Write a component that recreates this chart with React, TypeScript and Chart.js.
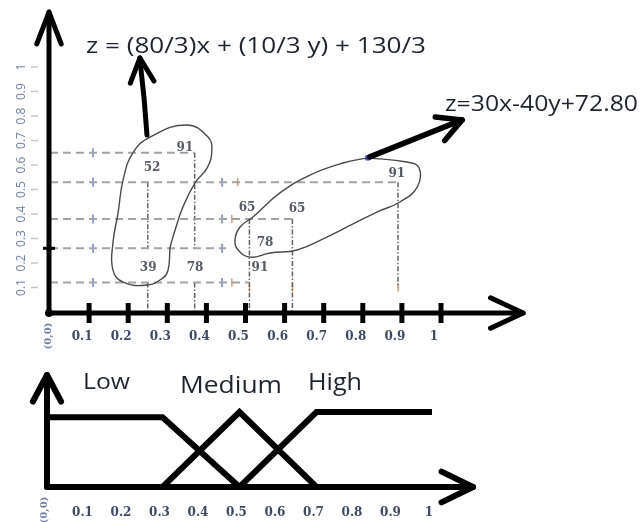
import React, { useEffect, useRef } from "react";
import { Chart, registerables } from "chart.js";

Chart.register(...registerables);

// ---------- upper plot: rule regions over the (x, y) input plane ----------
const axisTicks = [0.1, 0.2, 0.3, 0.4, 0.5, 0.6, 0.7, 0.8, 0.9, 1];

// horizontal guide lines: level and where each one stops
const levelY = [0.65, 0.53, 0.38, 0.26, 0.12];
const levelEndX = [0.37, 0.89, 0.62, 0.45, 0.51];

// vertical guide segments
const dropX = [0.25, 0.25, 0.37, 0.37, 0.51, 0.62, 0.89];
const dropTopY = [0.53, 0.12, 0.65, 0.12, 0.38, 0.38, 0.53];
const dropBottomY = [0.26, 0, 0.26, 0, 0, 0, 0.1];

// rule outputs written next to the grid points
const outputZ = [91, 52, 39, 78, 65, 65, 78, 91, 91];
const outputX = [0.345, 0.261, 0.251, 0.371, 0.504, 0.632, 0.55, 0.537, 0.887];
const outputY = [0.669, 0.588, 0.18, 0.18, 0.424, 0.42, 0.282, 0.18, 0.562];

// hand-drawn outline of the first cluster
const clusterAX = [0.307, 0.302, 0.289, 0.248, 0.187, 0.161, 0.161, 0.174, 0.187, 0.212, 0.256, 0.35, 0.404, 0.414, 0.402, 0.371, 0.34, 0.32];
const clusterAY = [0.265, 0.171, 0.139, 0.11, 0.122, 0.171, 0.282, 0.404, 0.539, 0.649, 0.714, 0.763, 0.714, 0.661, 0.588, 0.527, 0.429, 0.335];

// hand-drawn outline of the second cluster
const clusterBX = [0.813, 0.913, 0.944, 0.939, 0.895, 0.836, 0.76, 0.708, 0.632, 0.563, 0.512, 0.481, 0.473, 0.486, 0.519, 0.588, 0.665, 0.749];
const clusterBY = [0.629, 0.612, 0.588, 0.51, 0.449, 0.408, 0.347, 0.306, 0.253, 0.241, 0.224, 0.253, 0.294, 0.347, 0.388, 0.486, 0.559, 0.608];

// small sample markers left on the guide lines
const blueMarkX = [0.11, 0.11, 0.11, 0.11, 0.11, 0.44, 0.44, 0.44, 0.44];
const blueMarkY = [0.65, 0.53, 0.38, 0.26, 0.12, 0.53, 0.38, 0.26, 0.12];
const orangeMarkX = [0.48, 0.465, 0.465, 0.51, 0.62, 0.89];
const orangeMarkY = [0.53, 0.38, 0.12, 0.1, 0.1, 0.1];

const equationA = "z = (80/3)x + (10/3 y) + 130/3";
const equationB = "z=30x-40y+72.80";

// ---------- lower plot: membership functions ----------
const lowX = [0, 0.3, 0.5];
const lowY = [0.93, 0.93, 0];
const mediumX = [0.3, 0.5, 0.7];
const mediumY = [0, 1, 0];
const highX = [0.5, 0.7, 1.0];
const highY = [0, 1, 1];
const setNames = ["Low", "Medium", "High"];

const W = 641;
const TOP_H = 360;
const BOT_H = 162;

const pts = (xs: number[], ys: number[]) => xs.map((x, i) => ({ x, y: ys[i] }));
const closed = (xs: number[], ys: number[]) => {
  const p = pts(xs, ys);
  return [...p, p[0]];
};

function line(ctx: CanvasRenderingContext2D, x1: number, y1: number, x2: number, y2: number) {
  ctx.beginPath();
  ctx.moveTo(x1, y1);
  ctx.lineTo(x2, y2);
  ctx.stroke();
}

function head(ctx: CanvasRenderingContext2D, tx: number, ty: number, ang: number, len: number, spreadDeg: number) {
  const s = (spreadDeg * Math.PI) / 180;
  ctx.beginPath();
  ctx.moveTo(tx - len * Math.cos(ang - s), ty - len * Math.sin(ang - s));
  ctx.lineTo(tx, ty);
  ctx.lineTo(tx - len * Math.cos(ang + s), ty - len * Math.sin(ang + s));
  ctx.stroke();
}

function fitText(ctx: CanvasRenderingContext2D, text: string, left: number, baseline: number, width: number, size: number) {
  ctx.save();
  ctx.font = `${size}px "Open Sans"`;
  ctx.textAlign = "left";
  ctx.textBaseline = "alphabetic";
  const w = ctx.measureText(text).width;
  ctx.translate(left, baseline);
  ctx.scale(width / w, 1);
  ctx.fillText(text, 0, 0);
  ctx.restore();
}

function rotatedText(ctx: CanvasRenderingContext2D, text: string, cx: number, cy: number) {
  ctx.save();
  ctx.translate(cx, cy);
  ctx.rotate(-Math.PI / 2);
  ctx.textAlign = "center";
  ctx.textBaseline = "middle";
  ctx.fillText(text, 0, 0);
  ctx.restore();
}

const topDecor = {
  id: "topDecor",
  afterDatasetsDraw(chart: any) {
    const { ctx } = chart;
    const X = (v: number) => chart.scales.x.getPixelForValue(v);
    const Y = (v: number) => chart.scales.y.getPixelForValue(v);
    ctx.save();
    ctx.font = 'bold 12px "DejaVu Serif"';
    ctx.fillStyle = "#555a63";
    ctx.textAlign = "center";
    ctx.textBaseline = "middle";
    outputZ.forEach((z, i) => ctx.fillText(String(z), X(outputX[i]), Y(outputY[i])));
    ctx.restore();
  },
  afterDraw(chart: any) {
    const { ctx } = chart;
    const X = (v: number) => chart.scales.x.getPixelForValue(v);
    const Y = (v: number) => chart.scales.y.getPixelForValue(v);
    const ox = X(0) - 1;
    const oy = Y(0) + 1;
    ctx.save();

    // rotated y tick labels and their faint tick marks
    ctx.font = '12px "Open Sans"';
    ctx.fillStyle = "#6f80a3";
    axisTicks.forEach((t) => rotatedText(ctx, String(t), 22, Y(t)));
    ctx.strokeStyle = "#c4c4c4";
    ctx.lineWidth = 1.5;
    axisTicks.forEach((t) => line(ctx, 31, Y(t), 38, Y(t)));

    ctx.font = 'bold 10px "DejaVu Serif"';
    ctx.fillStyle = "#7080a8";
    rotatedText(ctx, "(0,0)", 48, 336);

    // axes with arrow heads
    ctx.strokeStyle = "#000";
    ctx.lineWidth = 5;
    ctx.lineCap = "round";
    ctx.lineJoin = "round";
    const yTip = Y(1.224);
    line(ctx, ox, oy, ox, yTip);
    head(ctx, ox, yTip, -Math.PI / 2, 34, 21);
    const xTip = X(1.21);
    line(ctx, ox, oy, xTip, oy);
    head(ctx, xTip, oy, 0, 36, 25);

    ctx.lineCap = "butt";
    axisTicks.forEach((t) => line(ctx, X(t), oy - 10, X(t), oy + 10));
    ctx.beginPath();
    ctx.arc(ox, oy, 4, 0, Math.PI * 2);
    ctx.fillStyle = "#000";
    ctx.fill();
    ctx.lineWidth = 3;
    line(ctx, ox - 6, Y(levelY[3]), ox + 6, Y(levelY[3]));

    // pointer arrows towards the rule equations
    ctx.lineWidth = 5;
    ctx.lineCap = "round";
    ctx.beginPath();
    ctx.moveTo(X(0.248), Y(0.722));
    ctx.lineTo(X(0.241), Y(0.865));
    ctx.lineTo(X(0.232), Y(1.0));
    ctx.lineTo(X(0.23), Y(1.037));
    ctx.stroke();
    const a1 = Math.atan2(Y(1.037) - Y(0.722), X(0.23) - X(0.248));
    head(ctx, X(0.23), Y(1.037), a1, 27, 26);

    ctx.lineWidth = 5.5;
    line(ctx, X(0.818), Y(0.633), X(1.054), Y(0.784));
    const a2 = Math.atan2(Y(0.784) - Y(0.633), X(1.054) - X(0.818));
    head(ctx, X(1.054), Y(0.784), a2, 27, 28);

    ctx.fillStyle = "#1f2431";
    fitText(ctx, equationA, 86, 53, 340, 22);
    fitText(ctx, equationB, 445, 111, 193, 21);
    ctx.restore();
  },
};

const bottomDecor = {
  id: "bottomDecor",
  afterDraw(chart: any) {
    const { ctx } = chart;
    const X = (v: number) => chart.scales.x.getPixelForValue(v);
    const Y = (v: number) => chart.scales.y.getPixelForValue(v);
    const ox = X(0);
    const oy = Y(0);
    ctx.save();
    ctx.strokeStyle = "#000";
    ctx.lineWidth = 6;
    ctx.lineCap = "round";
    ctx.lineJoin = "round";
    const yTip = Y(1.493);
    line(ctx, ox, oy, ox, yTip);
    head(ctx, ox, yTip, -Math.PI / 2, 30, 28);
    const xTip = X(1.1065);
    line(ctx, ox, oy, xTip, oy);
    head(ctx, xTip, oy, 0, 35, 26);

    ctx.font = 'bold 10px "DejaVu Serif"';
    ctx.fillStyle = "#7080a8";
    rotatedText(ctx, "(0,0)", 44, 150);

    ctx.fillStyle = "#1f2431";
    fitText(ctx, setNames[0], 83, 29, 47, 22);
    fitText(ctx, setNames[1], 180, 33, 102, 23);
    fitText(ctx, setNames[2], 308, 30, 54, 24);
    ctx.restore();
  },
};

const tickFont = { family: "DejaVu Serif", weight: "bold" as const, size: 12 };

function topConfig(): any {
  const guideH = levelY.map((y, i) => ({
    type: "line",
    data: [
      { x: 0, y },
      { x: levelEndX[i], y },
    ],
    borderColor: "#a3a3a3",
    borderWidth: 2,
    borderDash: [8, 5],
    pointRadius: 0,
  }));
  const guideV = dropX.map((x, i) => ({
    type: "line",
    data: [
      { x, y: dropTopY[i] },
      { x, y: dropBottomY[i] },
    ],
    borderColor: "#626262",
    borderWidth: 1.5,
    borderDash: [5, 2, 1.5, 2],
    pointRadius: 0,
  }));
  const outline = (data: any[]) => ({
    type: "line",
    data,
    borderColor: "#4a4a4a",
    borderWidth: 1.4,
    tension: 0.45,
    pointRadius: 0,
    fill: false,
  });
  return {
    type: "line",
    data: {
      datasets: [
        outline(closed(clusterAX, clusterAY)),
        outline(closed(clusterBX, clusterBY)),
        ...guideH,
        ...guideV,
        {
          type: "line",
          showLine: false,
          data: pts(blueMarkX, blueMarkY),
          pointStyle: "line",
          rotation: 90,
          pointRadius: 4.5,
          borderColor: "#6d7ee6",
          borderWidth: 1.5,
        },
        {
          type: "line",
          showLine: false,
          data: pts(orangeMarkX, orangeMarkY),
          pointStyle: "line",
          rotation: 90,
          pointRadius: 4,
          borderColor: "#f0955a",
          borderWidth: 1.5,
        },
        {
          type: "line",
          showLine: false,
          data: [{ x: clusterBX[0], y: clusterBY[0] }],
          pointStyle: "rect",
          pointRadius: 3,
          backgroundColor: "#3b4fd9",
          borderColor: "#3b4fd9",
        },
      ],
    },
    options: {
      responsive: false,
      animation: false,
      devicePixelRatio: 1,
      layout: { padding: 0, autoPadding: false },
      plugins: { legend: { display: false }, tooltip: { enabled: false } },
      scales: {
        x: {
          type: "linear",
          min: 0,
          max: (W - 50) / 391,
          afterBuildTicks: (s: any) => {
            s.ticks = axisTicks.map((value) => ({ value }));
          },
          afterFit: (s: any) => {
            s.height = TOP_H - 312;
          },
          grid: { display: false, drawTicks: false },
          border: { display: false },
          ticks: {
            font: tickFont,
            color: "#3d4a66",
            padding: 18,
            labelOffset: -7,
            maxRotation: 0,
            autoSkip: false,
            callback: (v: number) => String(v),
          },
        },
        y: {
          type: "linear",
          min: 0,
          max: 312 / 245,
          afterBuildTicks: (s: any) => {
            s.ticks = axisTicks.map((value) => ({ value }));
          },
          afterFit: (s: any) => {
            s.width = 50;
          },
          grid: { display: false, drawTicks: false },
          border: { display: false },
          ticks: { display: false },
        },
      },
    },
    plugins: [topDecor],
  };
}

function bottomConfig(): any {
  const mf = (xs: number[], ys: number[]) => ({
    type: "line",
    data: pts(xs, ys),
    borderColor: "#000",
    borderWidth: 6,
    pointRadius: 0,
    tension: 0,
  });
  return {
    type: "line",
    data: { datasets: [mf(lowX, lowY), mf(mediumX, mediumY), mf(highX, highY)] },
    options: {
      responsive: false,
      animation: false,
      devicePixelRatio: 1,
      layout: { padding: 0, autoPadding: false },
      plugins: { legend: { display: false }, tooltip: { enabled: false } },
      scales: {
        x: {
          type: "linear",
          min: 0,
          max: (W - 47) / 385,
          afterBuildTicks: (s: any) => {
            s.ticks = axisTicks.map((value) => ({ value }));
          },
          afterFit: (s: any) => {
            s.height = BOT_H - 127;
          },
          grid: { display: false, drawTicks: false },
          border: { display: false },
          ticks: {
            font: tickFont,
            color: "#3d4a66",
            padding: 19,
            labelOffset: -3,
            maxRotation: 0,
            autoSkip: false,
            callback: (v: number) => String(v),
          },
        },
        y: {
          type: "linear",
          min: 0,
          max: 127 / 75,
          afterFit: (s: any) => {
            s.width = 47;
          },
          grid: { display: false, drawTicks: false },
          border: { display: false },
          ticks: { display: false },
        },
      },
    },
    plugins: [bottomDecor],
  };
}

export default function App() {
  const topRef = useRef<HTMLCanvasElement>(null);
  const botRef = useRef<HTMLCanvasElement>(null);

  useEffect(() => {
    const top = new Chart(topRef.current!, topConfig());
    const bottom = new Chart(botRef.current!, bottomConfig());
    return () => {
      top.destroy();
      bottom.destroy();
    };
  }, []);

  return (
    <div
      style={{
        position: "fixed",
        left: 0,
        top: 0,
        width: W,
        height: TOP_H + BOT_H,
        background: "#fff",
        overflow: "hidden",
      }}
    >
      <canvas ref={topRef} width={W} height={TOP_H} style={{ position: "absolute", left: 0, top: 0 }} />
      <canvas ref={botRef} width={W} height={BOT_H} style={{ position: "absolute", left: 0, top: TOP_H }} />
    </div>
  );
}
